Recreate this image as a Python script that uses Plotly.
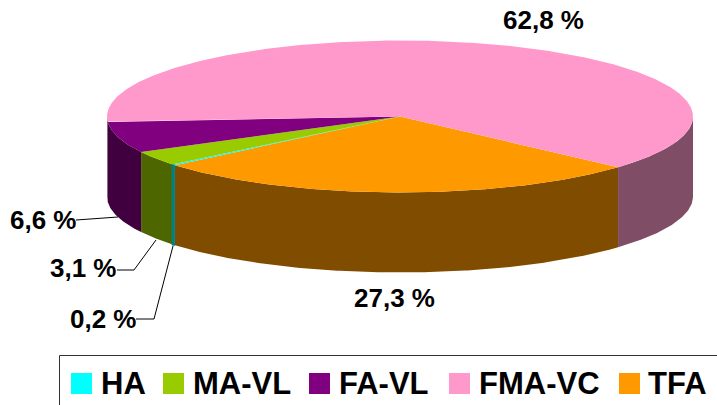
import numpy as np
import plotly.graph_objects as go

# slices in drawing order, clockwise on screen from the pink/orange edge
categories = ['TFA', 'HA', 'MA-VL', 'FA-VL', 'FMA-VC']
values = [27.3, 0.2, 3.1, 6.6, 62.8]
colors = ['#FF9900', '#00FFFF', '#99CC00', '#800080', '#FF99CC']
side_colors = ['#804D00', '#008080', '#4D6600', '#400040', '#804D66']
value_labels = ['27,3 %', '0,2 %', '3,1 %', '6,6 %', '62,8 %']
label_x = [394, 103, 83, 43, 543]
label_y = [298, 319, 268, 220, 20]

legend_order = ['HA', 'MA-VL', 'FA-VL', 'FMA-VC', 'TFA']
legend_swatch_x = [81.5, 173.5, 319.5, 459.5, 629.5]
legend_text_x = [98.5, 190.5, 336.5, 477, 646]

# leader lines for the small slices
leaders = [
    ([76, 118], [220, 217]),
    ([117, 134, 156], [270, 270, 240]),
    ([136, 154, 173], [319, 319, 246]),
]

cx, cy = 400, 116.5
rx, ry = 293, 76
depth = 80
start = 41.9


def arc(a0, a1):
    t = np.radians(np.linspace(a0, a1, max(int(abs(a1 - a0) * 2), 2)))
    return cx + rx * np.cos(t), cy + ry * np.sin(t)


fig = go.Figure()

a = start
edges = []
for v in values:
    edges.append((a, a + v * 3.6))
    a += v * 3.6

# side walls first, only the part of each slice facing the viewer
# (the last slice runs past 360 so it gets a second look at -360)
# HA goes last, it is so thin the neighbours would cover it
wall_order = sorted(range(len(categories)), key=lambda i: categories[i] == 'HA')
for i in wall_order:
    a0, a1 = edges[i]
    for shift in (0, -360):
        lo, hi = max(a0 + shift, 0), min(a1 + shift, 180)
        if lo >= hi:
            continue
        x, y = arc(lo, hi)
        fig.add_trace(go.Scatter(
            x=np.concatenate([x, x[::-1]]),
            y=np.concatenate([y, y[::-1] + depth]),
            mode='lines', fill='toself', fillcolor=side_colors[i],
            line=dict(width=2 if categories[i] == 'HA' else 0, color=side_colors[i]),
            hoverinfo='skip', showlegend=False,
        ))

# top face
for (a0, a1), col, name in zip(edges, colors, categories):
    x, y = arc(a0, a1)
    fig.add_trace(go.Scatter(
        x=np.concatenate([[cx], x, [cx]]),
        y=np.concatenate([[cy], y, [cy]]),
        mode='lines', fill='toself', fillcolor=col,
        line=dict(width=0),
        name=name, showlegend=False,
    ))

for lx, ly in leaders:
    fig.add_trace(go.Scatter(x=lx, y=ly, mode='lines', line=dict(color='#000000', width=1),
                             hoverinfo='skip', showlegend=False))

# legend swatches
fig.add_trace(go.Scatter(
    x=legend_swatch_x, y=[383.5] * 5, mode='markers',
    marker=dict(symbol='square', size=21, color=[colors[categories.index(n)] for n in legend_order]),
    hoverinfo='skip', showlegend=False,
))

for txt, x, y in zip(value_labels, label_x, label_y):
    fig.add_annotation(x=x, y=y, text=txt, showarrow=False,
                       font=dict(family='Liberation Sans', size=26, weight=700, color='#000000'))

for txt, x in zip(legend_order, legend_text_x):
    fig.add_annotation(x=x, y=383.5, text=txt, showarrow=False, xanchor='left',
                       font=dict(family='Liberation Sans', size=31, weight=700, color='#000000'))

fig.add_shape(type='rect', x0=59.5, y0=355.5, x1=725, y1=415,
              line=dict(color='#333333', width=1), layer='below')

fig.update_layout(
    width=717, height=405,
    margin=dict(l=0, r=0, t=0, b=0),
    paper_bgcolor='white', plot_bgcolor='white',
    xaxis=dict(range=[0, 717], visible=False, fixedrange=True),
    yaxis=dict(range=[405, 0], visible=False, fixedrange=True),
)

fig.write_html('out.html', config={'displayModeBar': False},
               post_script="document.body.style.margin='0';")
